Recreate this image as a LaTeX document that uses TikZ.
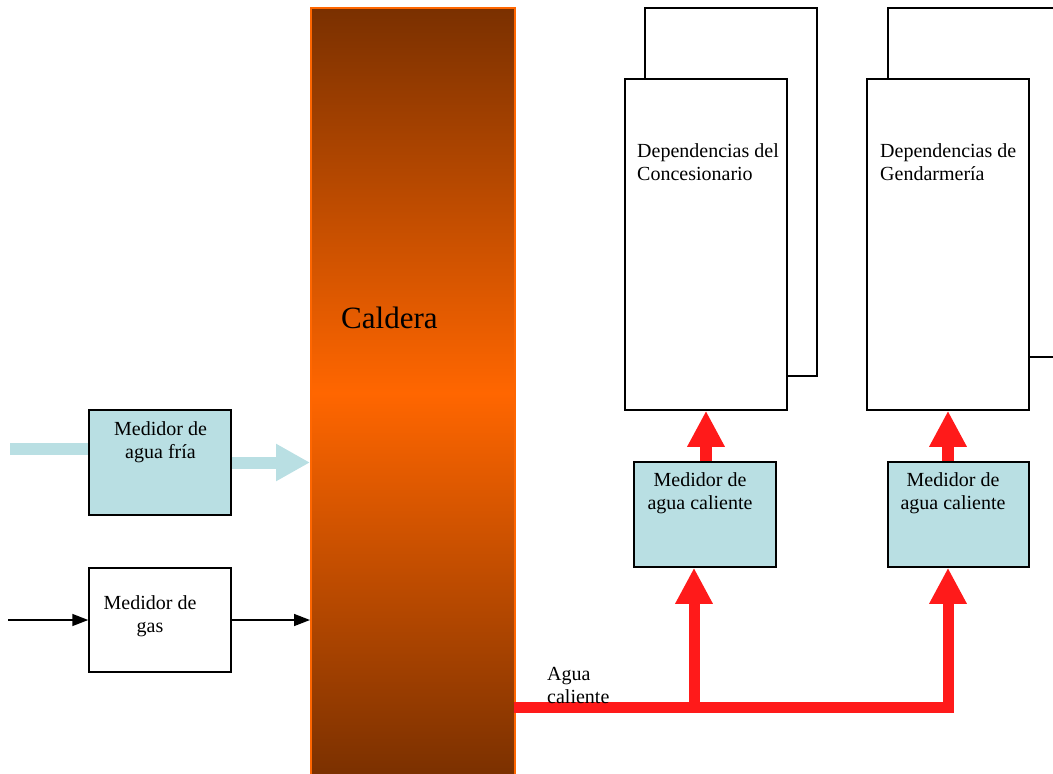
\documentclass[tikz,border=0pt]{standalone}
\usepackage{fontspec}
\setmainfont{Liberation Serif}
\usetikzlibrary{arrows.meta}
\definecolor{aguafria}{HTML}{B9DFE3}
\definecolor{rojo}{HTML}{FF1A1A}
\definecolor{naranja}{HTML}{FF6600}
\definecolor{cafe}{HTML}{7A3000}

\begin{document}
\begin{tikzpicture}[x=1pt,y=-1pt,
  caja/.style={draw,line width=1.5pt,minimum width=142pt,minimum height=105pt,inner sep=0pt},
  medidor/.style={caja,fill=aguafria},
  dep/.style={draw,line width=1.5pt,fill=white,inner sep=0pt},
  texto/.style={font=\fontsize{20}{23}\selectfont,inner sep=0pt},
  flecha/.style={line width=1.5pt,-{Triangle[length=16pt,width=12pt]}},
  tubofrio/.style={line width=12pt,aguafria},
  tubocal/.style={line width=11pt,rojo},
  puntacal/.style={-{Triangle[length=36pt,width=35pt]}}]
\useasboundingbox (0,0) rectangle (1053,774);

% caldera
\node[draw=naranja,line width=2pt,minimum width=204pt,minimum height=770pt,inner sep=0pt,
  top color=cafe,bottom color=cafe,middle color=naranja] (caldera) at (413,393) {};
\node[texto,font=\fontsize{31}{36}\selectfont,anchor=west] (tcaldera) at (341,318) {Caldera};

% medidores de entrada
\node[medidor] (fria) at (160,462.5) {};
\node[texto,align=center] (tfria) at (160.5,442) {Medidor de\\agua fría};
\node[caja,minimum height=104pt] (gas) at (160,620) {};
\node[texto,align=center] (tgas) at (150,616) {Medidor de\\gas};

% dependencias
\node[dep,minimum width=172pt,minimum height=368pt] (atras1) at (731,192) {};
\node[dep,minimum width=162pt,minimum height=331pt] (dep1) at (706,244.5) {};
\node[texto,align=left,anchor=west] (tdep1) at (637,162) {Dependencias del\\Concesionario};
\node[dep,minimum width=182pt,minimum height=349pt] (atras2) at (979,182.5) {};
\node[dep,minimum width=162pt,minimum height=331pt] (dep2) at (948,244.5) {};
\node[texto,align=left,anchor=west] (tdep2) at (880,162) {Dependencias de\\Gendarmería};

% medidores de agua caliente
\node[medidor] (cal1) at (705,514.5) {};
\node[texto,align=center] (tcal1) at (700,493.5) {Medidor de\\agua caliente};
\node[medidor,minimum width=141pt] (cal2) at (958.5,514.5) {};
\node[texto,align=center] (tcal2) at (953,493.5) {Medidor de\\agua caliente};

% agua fria
\coordinate (entradaagua) at (10,449);
\draw[tubofrio] (entradaagua) -- (entradaagua -| fria.west);
\draw[tubofrio,-{Triangle[length=34pt,width=35pt]}] (fria.east) -- (fria.east -| caldera.west);

% gas
\coordinate (entradagas) at (8,620);
\draw[flecha] (entradagas) -- (entradagas -| gas.west);
\draw[flecha] (gas.east) -- (gas.east -| caldera.west);

% agua caliente
\coordinate (salida) at (514,707);
\coordinate (ramal) at (694,707);
\draw[tubocal,puntacal] (salida) -| (dep2.south |- cal2.south);
\draw[tubocal,puntacal] (ramal) -- (ramal |- cal1.south);
\draw[tubocal,line width=12pt,puntacal] (dep1.south |- cal1.north) -- (dep1.south);
\draw[tubocal,line width=12pt,puntacal] (dep2.south |- cal2.north) -- (dep2.south);
\node[texto,align=left,anchor=west] (tsalida) at (547,685) {Agua\\caliente};
\end{tikzpicture}
\end{document}
